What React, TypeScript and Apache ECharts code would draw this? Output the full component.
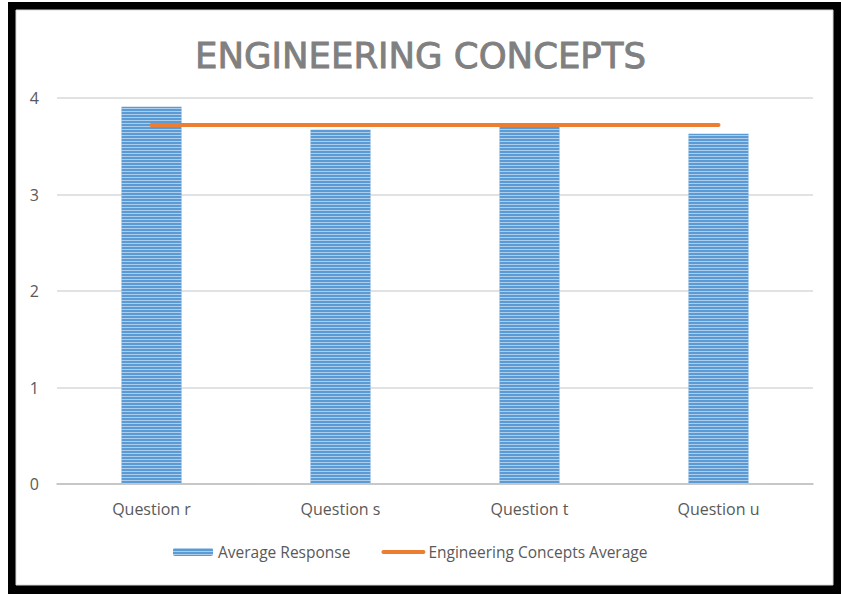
import React, { useEffect, useRef } from "react";
import * as echarts from "echarts";

// Survey questions and their mean responses
const categories = ["Question r", "Question s", "Question t", "Question u"];
const averageResponse = [3.91, 3.67, 3.7, 3.63];
// Overall mean across the four questions, drawn as a flat reference line
const conceptsAverage = [3.72, 3.72, 3.72, 3.72];
const yTicks = [0, 1, 2, 3, 4];

const TEXT = "#595959";
const FONT = "Open Sans";

export default function App() {
  const ref = useRef<HTMLDivElement>(null);

  useEffect(() => {
    if (!ref.current) return;
    const chart = echarts.init(ref.current, undefined, { renderer: "svg" });
    chart.setOption({
      animation: false,
      backgroundColor: "#ffffff",
      graphic: [
        {
          type: "rect",
          z: -10,
          silent: true,
          shape: { x: 8, y: 2, width: 833, height: 592 },
          style: { fill: "#000000" },
        },
        {
          type: "rect",
          z: -9,
          silent: true,
          shape: { x: 16, y: 10, width: 817, height: 575 },
          style: { fill: "#ffffff", stroke: "#d9d9d9", lineWidth: 1 },
        },
      ],
      title: {
        text: "ENGINEERING CONCEPTS",
        left: "center",
        top: 32,
        textStyle: {
          fontFamily: "DejaVu Sans",
          fontWeight: "normal",
          fontSize: 35.5,
          color: "#808080",
          textBorderColor: "#808080",
          textBorderWidth: 0.9,
        },
      },
      grid: { left: 57, right: 28, top: 98, bottom: 110, containLabel: false },
      legend: {
        left: 168,
        top: 539,
        itemWidth: 40,
        itemHeight: 8,
        itemGap: 31,
        lineStyle: { width: 4, cap: "round" },
        textStyle: { fontFamily: FONT, fontSize: 15.5, color: TEXT },
        data: [
          { name: "Average Response" },
          { name: "Engineering Concepts Average", itemStyle: { opacity: 0 } },
        ],
      },
      xAxis: {
        type: "category",
        data: categories,
        axisTick: { show: false },
        axisLine: { show: true, lineStyle: { color: "#bfbfbf", width: 1.5 } },
        axisLabel: { fontFamily: FONT, fontSize: 16, color: TEXT, margin: 17 },
      },
      yAxis: {
        type: "value",
        min: yTicks[0],
        max: yTicks[yTicks.length - 1],
        interval: 1,
        axisLine: { show: false },
        axisTick: { show: false },
        axisLabel: { fontFamily: FONT, fontSize: 16, color: TEXT, margin: 18 },
        splitLine: { lineStyle: { color: "#d9d9d9", width: 1.5 } },
      },
      series: [
        {
          name: "Average Response",
          type: "bar",
          data: averageResponse,
          barWidth: 60,
          itemStyle: {
            color: "#5B9BD5",
            decal: {
              symbol: "rect",
              symbolSize: 1,
              color: "rgba(255,255,255,0.5)",
              dashArrayX: [1, 0],
              dashArrayY: [1, 2],
              rotation: 0,
            },
          },
        },
        {
          name: "Engineering Concepts Average",
          type: "line",
          data: conceptsAverage,
          symbol: "none",
          showSymbol: false,
          lineStyle: { color: "#ED7D31", width: 4, cap: "round" },
          itemStyle: { color: "#ED7D31" },
          z: 3,
        },
      ],
    });
    return () => chart.dispose();
  }, []);

  return (
    <div
      ref={ref}
      style={{ position: "fixed", left: 0, top: 0, width: 841, height: 594, background: "#fff" }}
    />
  );
}
